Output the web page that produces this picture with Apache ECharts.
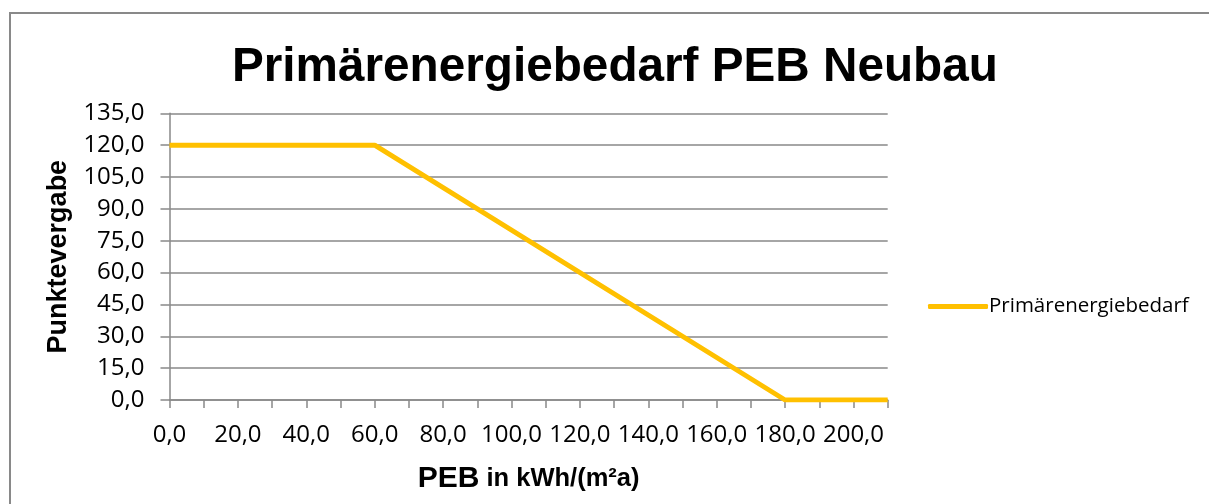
<!DOCTYPE html>
<html>
<head>
<meta charset="utf-8">
<script src="https://cdn.jsdelivr.net/npm/echarts@6/dist/echarts.min.js"></script>
<style>html,body{margin:0;padding:0;background:#fff;}#c{width:1209px;height:504px;}</style>
</head>
<body>
<div id="c"></div>
<script>
const xValues = [0, 60, 180, 210];
const yValues = [120, 120, 0, 0];
const seriesName = 'Primärenergiebedarf';
const titleText = 'Primärenergiebedarf PEB Neubau';
const yAxisName = 'Punktevergabe';

const fmt = v => v.toFixed(1).replace('.', ',');
const chart = echarts.init(document.getElementById('c'));
const gray = '#898989';
const labelFont = '"Open Sans", sans-serif';
const boldFont = '"Liberation Sans", Arial, sans-serif';

chart.setOption({
  animation: false,
  backgroundColor: '#fff',
  title: {
    text: titleText,
    left: 227,
    top: 39,
    textStyle: { fontFamily: boldFont, fontWeight: 'bold', fontSize: 47.7, color: '#000' }
  },
  grid: { left: 169.5, right: 321.3, top: 113.3, bottom: 104 },
  legend: {
    left: 923, top: 291,
    icon: 'roundRect',
    itemWidth: 60, itemHeight: 5,
    itemGap: 10,
    textStyle: { fontFamily: labelFont, fontSize: 20.5, color: '#000', padding: [0, 0, 0, -4] },
    data: [seriesName]
  },
  xAxis: {
    type: 'value',
    min: 0, max: 210, interval: 10,
    name: '{a|PEB}{b| in kWh/(m²a)}',
    nameLocation: 'middle',
    nameGap: 64,
    nameTextStyle: {
      rich: {
        a: { fontFamily: boldFont, fontWeight: 'bold', fontSize: 30, color: '#000' },
        b: { fontFamily: boldFont, fontWeight: 'bold', fontSize: 25.5, color: '#000' }
      }
    },
    axisLine: { show: true, lineStyle: { color: gray, width: 1.5 } },
    axisTick: { show: true, length: 8, lineStyle: { color: gray, width: 1.5 } },
    splitLine: { show: false },
    axisLabel: {
      margin: 23,
      fontFamily: labelFont, fontSize: 24, color: '#000',
      formatter: v => (v % 20 === 0 && v <= 200) ? fmt(v) : ''
    }
  },
  yAxis: {
    type: 'value',
    min: 0, max: 135, interval: 15,
    name: yAxisName,
    nameLocation: 'middle',
    nameRotate: 90,
    nameGap: 95,
    nameTextStyle: { fontFamily: boldFont, fontWeight: 'bold', fontSize: 27, color: '#000' },
    axisLine: { show: true, lineStyle: { color: gray, width: 1.5 } },
    axisTick: { show: true, length: 9, lineStyle: { color: gray, width: 1.5 } },
    splitLine: { show: true, lineStyle: { color: gray, width: 1.5 } },
    axisLabel: {
      margin: 25,
      fontFamily: labelFont, fontSize: 24, color: '#000',
      formatter: v => fmt(v)
    }
  },
  graphic: [{
    type: 'rect',
    shape: { x: 10, y: 13, width: 1400, height: 700 },
    style: { fill: 'none', stroke: gray, lineWidth: 2 },
    silent: true, z: -10
  }],
  series: [{
    name: seriesName,
    type: 'line',
    data: xValues.map((x, i) => [x, yValues[i]]),
    showSymbol: false,
    symbol: 'none',
    lineStyle: { color: '#FFC000', width: 5 },
    itemStyle: { color: '#FFC000' }
  }]
});
</script>
</body>
</html>
